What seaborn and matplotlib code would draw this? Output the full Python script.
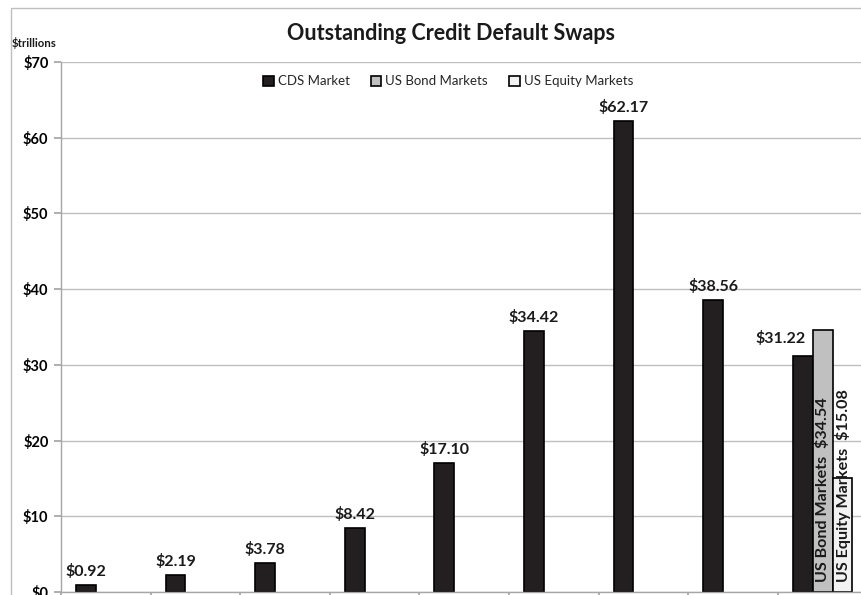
import matplotlib
matplotlib.use("Agg")
import matplotlib.pyplot as plt
from matplotlib.patches import Rectangle
import numpy as np
import pandas as pd
import seaborn as sns

# ---- data ----
years = ["2001", "2002", "2003", "2004", "2005", "2006", "2007", "2008", "2009"]
cds_market = [0.92, 2.19, 3.78, 8.42, 17.10, 34.42, 62.17, 38.56, 31.22]
us_bond = [np.nan, np.nan, np.nan, np.nan, np.nan, np.nan, np.nan, np.nan, 34.54]
us_equity = [np.nan, np.nan, np.nan, np.nan, np.nan, np.nan, np.nan, np.nan, 15.08]
series_names = ["CDS Market", "US Bond Markets", "US Equity Markets"]
y_ticks = [0, 10, 20, 30, 40, 50, 60, 70]

rows = []
for name, vals in zip(series_names, [cds_market, us_bond, us_equity]):
    for yr, v in zip(years, vals):
        rows.append({"year": yr, "series": name, "value": v})
df = pd.DataFrame(rows)

sns.set_theme(style="white")
plt.rcParams["font.family"] = ["Lato", "DejaVu Sans"]

W, H = 862, 595
fig = plt.figure(figsize=(W / 100, H / 100), dpi=100)
fig.patch.set_facecolor("white")

# outer chart-area border (cropped on right and bottom)
fig.patches.append(Rectangle((11 / W, -0.1), 2.0, 1 - 8 / H + 0.1,
                             transform=fig.transFigure, fill=False,
                             edgecolor="#BFBFBF", linewidth=1.0, zorder=0))

left_px, right_px, top_px, bottom_px = 61, 61 + 9 * 89.6, 62, 592
ax = fig.add_axes([left_px / W, (H - bottom_px) / H,
                   (right_px - left_px) / W, (bottom_px - top_px) / H])

colors = ["#231F20", "#C0C0C0", "#F2F2F2"]
sns.barplot(data=df, x="year", y="value", hue="series", hue_order=series_names,
            order=years, palette=colors, width=0.667, gap=0, dodge=True,
            edgecolor="black", linewidth=1.2, saturation=1, ax=ax,
            err_kws={"linewidth": 0}, legend=True)

ax.set_xlim(-0.5, 8.5)
ax.set_ylim(0, 70)
ax.set_yticks(y_ticks)
ax.set_yticklabels([f"${t}" for t in y_ticks], fontweight="bold", fontsize=10.5)
ax.yaxis.grid(True, color="#BFBFBF", linewidth=1.0)
ax.set_axisbelow(True)
ax.set_xlabel("")
ax.set_ylabel("")
for s in ["top", "right"]:
    ax.spines[s].set_visible(False)
for s in ["left", "bottom"]:
    ax.spines[s].set_color("#A6A6A6")
    ax.spines[s].set_linewidth(1.0)
ax.set_xticks(np.arange(-0.5, 9, 1.0))
ax.tick_params(axis="x", which="both", bottom=True, length=5, color="#A6A6A6",
               labelbottom=False)
ax.tick_params(axis="y", left=True, length=5, color="#A6A6A6", pad=4,
               labelcolor="black")

# data labels for CDS bars
cds_cont = ax.containers[0]
for i, (p, v) in enumerate(zip(cds_cont.patches, cds_market)):
    x = p.get_x() + p.get_width() / 2
    dx, dy = (-22, 10) if i == len(cds_market) - 1 else (0, 6)
    ax.annotate(f"${v:.2f}", (x, v), xytext=(dx * 0.72, dy * 0.72),
                textcoords="offset points", ha="center", va="bottom",
                fontsize=11.5, fontweight="bold", color="#1a1a1a")

# rotated labels for bond / equity bars
for cont, vals, name in [(ax.containers[1], us_bond, series_names[1]),
                         (ax.containers[2], us_equity, series_names[2])]:
    good = [v for v in vals if not np.isnan(v)]
    for p, v in zip(cont.patches, good):
        x = p.get_x() + p.get_width() / 2
        ax.annotate(f"{name}  ${v:.2f}", (x, 0), xytext=(0, 7.5),
                    textcoords="offset points", ha="center", va="bottom",
                    rotation=90, fontsize=11.6, fontweight="bold",
                    color="#1a1a1a")

# legend
handles, labels = ax.get_legend_handles_labels()
ax.legend(handles, labels, loc="upper center", bbox_to_anchor=(0.5 - 0.02, 1.0),
          ncol=3, frameon=False, fontsize=9.5, handlelength=0.8,
          handleheight=0.8, handletextpad=0.3, columnspacing=1.6,
          borderaxespad=0.6)

fig.text(451 / W, 1 - 33 / H, "Outstanding Credit Default Swaps",
         ha="center", va="center", fontsize=15.5, fontweight="bold",
         color="#1a1a1a")
fig.text(12 / W, 1 - 43 / H, "$trillions", ha="left", va="center",
         fontsize=8.2, fontweight="bold", color="#1a1a1a")

fig.savefig("out.png", dpi=100)
